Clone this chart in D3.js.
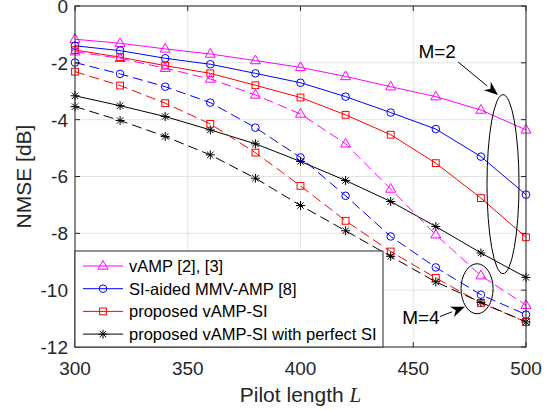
<!DOCTYPE html>
<html><head><meta charset="utf-8">
<script src="https://cdn.jsdelivr.net/npm/d3@7"></script>
<style>
body{margin:0;background:#fff;}
svg{display:block;font-family:"Liberation Sans",Arial,sans-serif;}
</style></head>
<body><svg id="c" width="557" height="410"></svg>
<script>
// ---- data ----
const pilotLength = [300,320,340,360,380,400,420,440,460,480,500];
const xTicks = [300,350,400,450,500];
const yTicks = [0,-2,-4,-6,-8,-10,-12];
// M = 2 (solid)
const vampM2      = [-1.17,-1.31,-1.51,-1.69,-1.92,-2.16,-2.48,-2.84,-3.19,-3.66,-4.36];
const siAmpM2     = [-1.40,-1.57,-1.84,-2.05,-2.37,-2.70,-3.19,-3.75,-4.33,-5.30,-6.64];
const vampSiM2    = [-1.55,-1.80,-2.10,-2.37,-2.79,-3.22,-3.83,-4.53,-5.53,-6.76,-8.14];
const perfectM2   = [-3.16,-3.51,-3.89,-4.36,-4.85,-5.47,-6.14,-6.88,-7.76,-8.69,-9.55];
// M = 4 (dashed)
const vampM4      = [-1.61,-1.84,-2.19,-2.57,-3.13,-3.80,-4.85,-6.44,-8.05,-9.49,-10.53];
const siAmpM4     = [-1.99,-2.39,-2.84,-3.40,-4.28,-5.33,-6.68,-8.11,-9.20,-10.16,-10.86];
const vampSiM4    = [-2.31,-2.80,-3.42,-4.15,-5.16,-6.33,-7.56,-8.64,-9.57,-10.45,-11.12];
const perfectM4   = [-3.54,-4.03,-4.59,-5.24,-6.06,-7.02,-7.91,-8.81,-9.71,-10.43,-11.12];
const legendLabels = ["vAMP [2], [3]","SI-aided MMV-AMP [8]","proposed vAMP-SI","proposed vAMP-SI with perfect SI"];

const series = [
  {v:vampM2,  c:"#ff00ff", m:"tri",  dash:null},
  {v:siAmpM2, c:"#0000ff", m:"circ", dash:null},
  {v:vampSiM2,c:"#ff0000", m:"sq",   dash:null},
  {v:perfectM2,c:"#000000",m:"star", dash:null},
  {v:vampM4,  c:"#ff00ff", m:"tri",  dash:"10,5"},
  {v:siAmpM4, c:"#0000ff", m:"circ", dash:"10,5"},
  {v:vampSiM4,c:"#ff0000", m:"sq",   dash:"10,5"},
  {v:perfectM4,c:"#000000",m:"star", dash:"10,5"}
];
const legendItems = [
  {c:"#ff00ff", m:"tri"},{c:"#0000ff", m:"circ"},{c:"#ff0000", m:"sq"},{c:"#000000", m:"star"}
];

const svg = d3.select("#c");
const L=75, R=526, T=6, B=347;
const x = d3.scaleLinear().domain([300,500]).range([L,R]);
const y = d3.scaleLinear().domain([0,-12]).range([T,B]);
const axisCol = "#262626";

// grid
const g = svg.append("g");
g.selectAll(".gx").data(xTicks).join("line")
  .attr("x1",d=>x(d)).attr("x2",d=>x(d)).attr("y1",T).attr("y2",B)
  .attr("stroke","#e3e3e3").attr("stroke-width",1);
g.selectAll(".gy").data(yTicks).join("line")
  .attr("y1",d=>y(d)).attr("y2",d=>y(d)).attr("x1",L).attr("x2",R)
  .attr("stroke","#e3e3e3").attr("stroke-width",1);

// markers
function marker(sel, type, color){
  if(type==="tri"){
    sel.append("path").attr("d","M0,-5.5L5,3.2L-5,3.2Z").attr("fill","none").attr("stroke",color).attr("stroke-width",1);
  } else if(type==="circ"){
    sel.append("circle").attr("r",3.8).attr("fill","none").attr("stroke",color).attr("stroke-width",1);
  } else if(type==="sq"){
    sel.append("rect").attr("x",-3.4).attr("y",-3.4).attr("width",6.8).attr("height",6.8).attr("fill","none").attr("stroke",color).attr("stroke-width",1);
  } else {
    sel.append("path").attr("d","M-4.5,0H4.5M0,-4.5V4.5M-3.2,-3.2L3.2,3.2M-3.2,3.2L3.2,-3.2").attr("fill","none").attr("stroke",color).attr("stroke-width",1);
  }
}

const line = d3.line().x((d,i)=>x(pilotLength[i])).y(d=>y(d));
series.forEach(s=>{
  svg.append("path").datum(s.v).attr("d",line).attr("fill","none")
    .attr("stroke",s.c).attr("stroke-width",1).attr("stroke-dasharray",s.dash);
  s.v.forEach((v,i)=>{
    const mg = svg.append("g").attr("transform",`translate(${x(pilotLength[i])},${y(v)})`);
    marker(mg, s.m, s.c);
  });
});

// axes box and ticks
svg.append("rect").attr("x",L).attr("y",T).attr("width",R-L).attr("height",B-T)
  .attr("fill","none").attr("stroke",axisCol).attr("stroke-width",1);
const tl=5;
xTicks.forEach(t=>{
  svg.append("line").attr("x1",x(t)).attr("x2",x(t)).attr("y1",B).attr("y2",B-tl).attr("stroke",axisCol);
  svg.append("line").attr("x1",x(t)).attr("x2",x(t)).attr("y1",T).attr("y2",T+tl).attr("stroke",axisCol);
  svg.append("text").attr("x",x(t)).attr("y",375).attr("text-anchor","middle")
    .attr("font-size",19).attr("fill",axisCol).text(t);
});
yTicks.forEach(t=>{
  svg.append("line").attr("y1",y(t)).attr("y2",y(t)).attr("x1",L).attr("x2",L+tl).attr("stroke",axisCol);
  svg.append("line").attr("y1",y(t)).attr("y2",y(t)).attr("x1",R).attr("x2",R-tl).attr("stroke",axisCol);
  svg.append("text").attr("x",68).attr("y",y(t)).attr("dy","0.36em").attr("text-anchor","end")
    .attr("font-size",19).attr("fill",axisCol).text(t);
});

// axis labels
const xl = svg.append("text").attr("x",(L+R)/2).attr("y",402).attr("text-anchor","middle")
  .attr("font-size",21).attr("fill",axisCol);
xl.append("tspan").text("Pilot length ");
xl.append("tspan").attr("font-family","'Liberation Serif',serif").attr("font-style","italic").text("L");
svg.append("text").attr("transform",`translate(31,${(T+B)/2}) rotate(-90)`).attr("text-anchor","middle")
  .attr("font-size",21).attr("fill",axisCol).text("NMSE [dB]");

// annotations (in data units)
const ellipses = [{cx:489.8, cy:-6.27, rx:7.1, ry:3.15},{cx:478.3, cy:-9.95, rx:7.1, ry:0.88}];
const arrows = [{x1:469.9,y1:-1.97,x2:487.6,y2:-3.13},{x1:461.9,y1:-10.93,x2:472.9,y2:-10.58}];
const notes = [{x:460.6,y:-1.83,t:"M=2"},{x:453.4,y:-11.2,t:"M=4"}];
ellipses.forEach(e=>{
  svg.append("ellipse").attr("cx",x(e.cx)).attr("cy",y(e.cy))
    .attr("rx",x(300+e.rx)-x(300)).attr("ry",y(-e.ry)-y(0))
    .attr("fill","none").attr("stroke","#000").attr("stroke-width",1);
});
arrows.forEach(a=>{
  const X1=x(a.x1),Y1=y(a.y1),X2=x(a.x2),Y2=y(a.y2);
  const ang=Math.atan2(Y2-Y1,X2-X1), hl=14, hw=5.5;
  const bx=X2-hl*Math.cos(ang), by=Y2-hl*Math.sin(ang);
  svg.append("line").attr("x1",X1).attr("y1",Y1).attr("x2",bx).attr("y2",by).attr("stroke","#000");
  const px=-Math.sin(ang)*hw, py=Math.cos(ang)*hw;
  const mx=X2-hl*0.7*Math.cos(ang), my=Y2-hl*0.7*Math.sin(ang);
  svg.append("path").attr("d",`M${X2},${Y2}L${bx+px},${by+py}L${mx},${my}L${bx-px},${by-py}Z`).attr("fill","#000");
});
notes.forEach(n=>{
  svg.append("text").attr("x",x(n.x)).attr("y",y(n.y)).attr("text-anchor","middle")
    .attr("font-size",19).attr("fill","#000").text(n.t);
});

// legend
const lg = svg.append("g");
lg.append("rect").attr("x",L).attr("y",251).attr("width",383-L).attr("height",B-251)
  .attr("fill","#fff").attr("stroke",axisCol).attr("stroke-width",1);
legendItems.forEach((it,i)=>{
  const yy = 266 + i*22.7;
  lg.append("line").attr("x1",83).attr("x2",123).attr("y1",yy).attr("y2",yy).attr("stroke",it.c);
  marker(lg.append("g").attr("transform",`translate(103,${yy})`), it.m, it.c);
  lg.append("text").attr("x",129).attr("y",yy).attr("dy","0.36em").attr("font-size",16.5)
    .attr("fill","#000").text(legendLabels[i]);
});
</script></body></html>
